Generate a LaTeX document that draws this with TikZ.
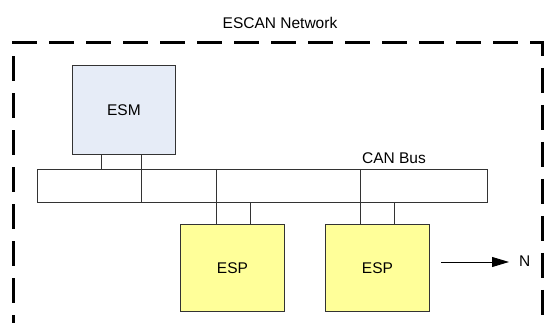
\documentclass[tikz,border=0pt]{standalone}
\usepackage{fontspec}
\setmainfont{Liberation Sans}
\usetikzlibrary{arrows.meta}
\definecolor{esmfill}{HTML}{E6ECF7}
\definecolor{espfill}{HTML}{FFFF99}
\definecolor{edge}{HTML}{333333}
\begin{document}
\begin{tikzpicture}[x=1pt,y=-1pt,
  box/.style={draw=edge,line width=0.9pt,inner sep=0pt,anchor=north west},
  wire/.style={draw=edge,line width=0.9pt},
  lbl/.style={font=\fontsize{15.5}{18}\selectfont,inner sep=0pt}]
\useasboundingbox (0,0) rectangle (544,323);
\clip (0,0) rectangle (544,323);
\node[lbl] (title) at (280,23) {ESCAN Network};
\draw[line width=3pt,dash pattern=on 25pt off 12pt] (13,340) -- (13,43) -- (542,43) -- (542,340);
\node[box,fill=esmfill,minimum width=103pt,minimum height=89pt] (esm) at (72,65) {};
\node[lbl] at (esm.center) {ESM};
\node[box,fill=white,minimum width=450pt,minimum height=33pt] (bus) at (37,169) {};
\node[lbl] (canlbl) at (394,158) {CAN Bus};
\node[box,fill=espfill,minimum width=104pt,minimum height=87pt] (espa) at (180,224) {};
\node[lbl] at (espa.center) {ESP};
\node[box,fill=espfill,minimum width=104pt,minimum height=87pt] (espb) at (325,224) {};
\node[lbl] at (espb.center) {ESP};
% ESM links
\draw[wire] ([xshift=29pt]esm.south west) -- ([xshift=29pt]esm.south west |- bus.north);
\draw[wire] ([xshift=69pt]esm.south west) -- ([xshift=69pt]esm.south west |- bus.south);
% ESP A links
\draw[wire] ([xshift=36pt]espa.north west |- bus.north) -- ([xshift=36pt]espa.north west);
\draw[wire] ([xshift=70pt]espa.north west |- bus.south) -- ([xshift=70pt]espa.north west);
% ESP B links
\draw[wire] ([xshift=35pt]espb.north west |- bus.north) -- ([xshift=35pt]espb.north west);
\draw[wire] ([xshift=69pt]espb.north west |- bus.south) -- ([xshift=69pt]espb.north west);
% arrow
\node[lbl,anchor=west] (n) at (519,261) {N};
\coordinate (astart) at (441,262);
\draw[line width=0.9pt,-{Triangle[length=17pt,width=10pt]}] (astart) -- ([xshift=-10pt]n.west |- astart);
\end{tikzpicture}
\end{document}
